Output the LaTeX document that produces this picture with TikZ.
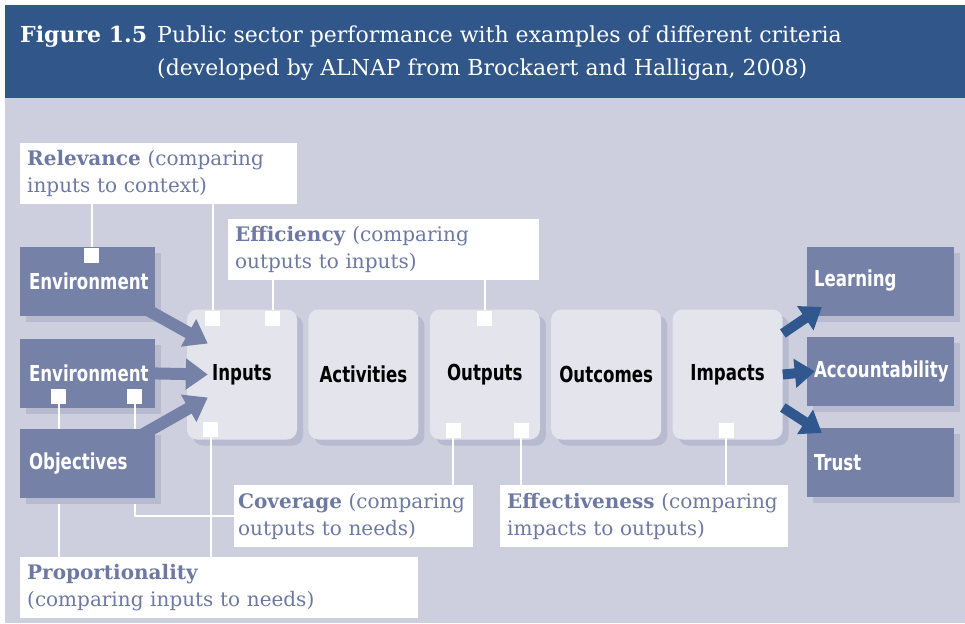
\documentclass[tikz,border=0pt]{standalone}
\usepackage{fontspec}
\setmainfont{DejaVu Serif}
\newfontfamily\boxfont[FakeStretch=0.84]{DejaVu Sans Condensed}
\usetikzlibrary{arrows.meta}
\usetikzlibrary{positioning}
\usetikzlibrary{shadows}
\usetikzlibrary{calc}

\definecolor{titleblue}{HTML}{31578A}
\definecolor{bgblue}{HTML}{CDCFDF}
\definecolor{boxblue}{HTML}{7581A7}
\definecolor{stagefill}{HTML}{E3E4EC}
\definecolor{shade}{HTML}{B8BBD0}
\definecolor{labeltext}{HTML}{6D79A2}
\definecolor{arrowblue}{HTML}{30588E}

\tikzset{
  dark/.style={rectangle, fill=boxblue, text=white, inner sep=0pt, minimum height=69pt, align=left,
    font=\boxfont\bfseries\fontsize{22}{24}\selectfont,
    drop shadow={shadow xshift=6pt, shadow yshift=-6pt, fill=shade, opacity=1}},
  leftbox/.style={dark, minimum width=135pt, text width=117pt},
  rightbox/.style={dark, minimum width=147pt, text width=133pt},
  stage/.style={rectangle, rounded corners=10pt, fill=stagefill, minimum width=110pt, minimum height=130pt,
    font=\boxfont\bfseries\fontsize{22}{24}\selectfont, text=black,
    drop shadow={shadow xshift=6pt, shadow yshift=-6pt, fill=shade, opacity=1}},
  criterion/.style={rectangle, fill=white, anchor=north west, align=left, inner xsep=7pt, inner ysep=0pt,
    text=labeltext, font=\fontsize{20}{27}\selectfont},
  tab/.style={rectangle, fill=white, minimum size=15pt, inner sep=0pt},
  link/.style={white, line width=2pt},
  arrow/.style={boxblue, line width=12pt, -{Triangle[length=22pt, width=30pt]}},
  outarrow/.style={arrowblue, line width=10pt, -{Triangle[length=20pt, width=28pt]}}
}

\begin{document}
\begin{tikzpicture}[x=1pt, y=-1pt, node distance=11pt]

\useasboundingbox (0,0) rectangle (965,623);
\fill[white] (0,0) rectangle (965,623);
\fill[titleblue] (5,5) rectangle (965,98);
\fill[bgblue] (5,98) rectangle (965,623);

% title
\node (fignum) [anchor=base west, text=white, inner sep=0pt, font=\bfseries\fontsize{22}{24}\selectfont] at (20,43) {Figure 1.5};
\node (capa) [anchor=base west, text=white, inner sep=0pt, font=\fontsize{22}{24}\selectfont] at (157,43) {Public sector performance with examples of different criteria};
\node (capb) [anchor=base west, text=white, inner sep=0pt, font=\fontsize{22}{24}\selectfont] at ([yshift=-33pt]capa.base west) {(developed by ALNAP from Brockaert and Halligan, 2008)};

% left boxes
\node (env1) [leftbox] at (87.5,281) {Environment};
\node (env2) [leftbox, below=23pt of env1] {Environment};

% stages
\node (inputs) [stage] at (242,374.5) {Inputs};
\node (activities) [stage, right=of inputs] {Activities};
\node (outputs) [stage, right=of activities] {Outputs};
\node (outcomes) [stage, right=of outputs] {Outcomes};
\node (impacts) [stage, right=of outcomes] {Impacts};

% right boxes
\node (learning) [rightbox] at (880.5,281) {Learning};
\node (account) [rightbox, below=21pt of learning] {Accountability};
\node (trust) [rightbox, below=22pt of account] {Trust};

% criteria
\node (relevance) [criterion, text width=263pt, minimum height=61pt] at (20,143) {\textbf{Relevance} (comparing\\inputs to context)};
\node (efficiency) [criterion, text width=297pt, minimum height=61pt] at (228,219) {\textbf{Efficiency} (comparing\\outputs to inputs)};
\node (coverage) [criterion, text width=231pt, inner xsep=4pt, minimum height=62pt] at (234,485) {\textbf{Coverage} (comparing\\outputs to needs)};
\node (proportion) [criterion, text width=384pt, minimum height=61pt] at (20,557) {\textbf{Proportionality}\\(comparing inputs to needs)};
\node (effective) [criterion, text width=274pt, minimum height=62pt] at (500,485) {\textbf{Effectiveness} (comparing\\impacts to outputs)};

% tabs
\node (tenv1) [tab, anchor=north] at ([xshift=4pt, yshift=-1pt]env1.north) {};
\node (tin1) [tab, anchor=north] at ([xshift=-29.5pt, yshift=-1pt]inputs.north) {};
\node (tin2) [tab, anchor=north] at ([xshift=30.5pt, yshift=-1pt]inputs.north) {};
\node (tout1) [tab, anchor=north] at ([yshift=-1pt]outputs.north) {};
\node (tin3) [tab, anchor=south] at ([xshift=-31.5pt, yshift=3pt]inputs.south) {};
\node (tout2) [tab, anchor=south] at ([xshift=-31.5pt, yshift=2pt]outputs.south) {};
\node (tout3) [tab, anchor=south] at ([xshift=36.5pt, yshift=2pt]outputs.south) {};
\node (timp) [tab, anchor=south] at ([xshift=-1.5pt, yshift=2pt]impacts.south) {};
\node (tenv2) [tab, anchor=south] at ([xshift=-29pt, yshift=4pt]env2.south) {};
\node (tenv3) [tab, anchor=south] at ([xshift=47pt, yshift=4pt]env2.south) {};

% links
\draw[link] (tenv1) -- (tenv1 |- relevance.south);
\draw[link] (tin1) -- (tin1 |- relevance.south);
\draw[link] (tin2) -- (tin2 |- efficiency.south);
\draw[link] (tout1) -- (tout1 |- efficiency.south);
\draw[link] (tout2) -- (tout2 |- coverage.north);
\draw[link] (tenv3) |- (coverage.west);
\draw[link] (tenv2) -- (tenv2 |- proportion.north);
\draw[link] (tin3) -- (tin3 |- proportion.north);
\draw[link] (tout3) -- (tout3 |- effective.north);
\draw[link] (timp) -- (timp |- effective.north);

\node (objectives) [leftbox, below=21pt of env2] {Objectives};

% arrows into inputs
\coordinate (tipa) at ($(inputs.west)+(21,-31)$);
\coordinate (tipb) at ($(inputs.west)+(21,0)$);
\coordinate (tipc) at ($(inputs.west)+(21,23)$);
\draw[arrow] ([xshift=-10pt, yshift=7pt]env1.south east) -- (tipa);
\draw[arrow] ([xshift=-2pt]env2.east) -- (tipb);
\draw[arrow] ([xshift=-12pt, yshift=-5pt]objectives.north east) -- (tipc);

% arrows out of impacts
\coordinate (tipd) at ($(learning.west)+(15,26)$);
\coordinate (tipe) at ($(account.west)+(8,0)$);
\coordinate (tipf) at ($(trust.west)+(15,-30)$);
\draw[outarrow] ([yshift=41pt]impacts.east) -- (tipd);
\draw[outarrow] (impacts.east) -- (tipe);
\draw[outarrow] ([yshift=-33pt]impacts.east) -- (tipf);

\end{tikzpicture}
\end{document}
